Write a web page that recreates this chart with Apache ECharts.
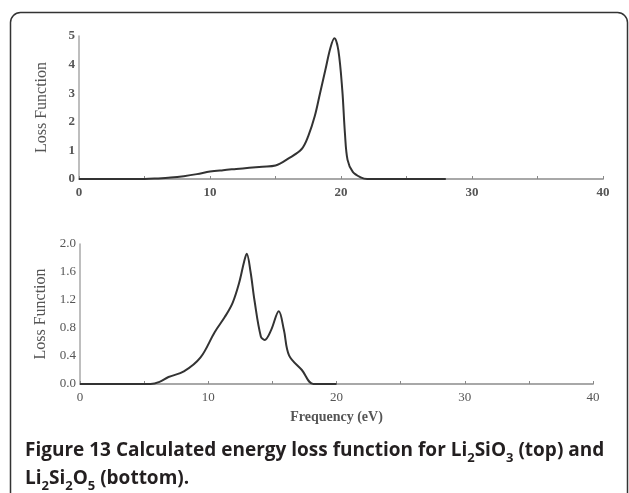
<!DOCTYPE html>
<html>
<head>
<meta charset="utf-8">
<script src="https://cdn.jsdelivr.net/npm/echarts@6/dist/echarts.min.js"></script>
<style>
    html, body { margin: 0; padding: 0; background: #fff; }
    #contain { width: 629px; height: 493px; }
</style>
</head>
<body>
<div id="contain"></div>
<script>
// top panel: Li2SiO3
var topEnergy = [0, 5, 6, 7, 8, 9, 10, 11, 12, 13, 14, 15, 16, 17, 17.5, 18, 18.4, 18.8, 19.2, 19.5, 19.8, 20.1, 20.3, 20.5, 20.9, 21.5, 22, 28];
var topLoss = [0, 0, 0.02, 0.05, 0.1, 0.17, 0.26, 0.31, 0.35, 0.39, 0.43, 0.47, 0.72, 1.05, 1.5, 2.2, 3.0, 3.8, 4.6, 4.92, 4.5, 3.1, 1.6, 0.67, 0.25, 0.06, 0, 0];

// bottom panel: Li2Si2O5
var botEnergy = [0, 5.5, 6.2, 6.9, 8.1, 9.4, 10.5, 11.3, 11.9, 12.4, 12.8, 13.0, 13.3, 13.6, 14.1, 14.4, 14.9, 15.5, 15.9, 16.3, 17.3, 18.2, 20];
var botLoss = [0, 0, 0.03, 0.1, 0.18, 0.38, 0.74, 0.96, 1.16, 1.44, 1.75, 1.86, 1.6, 1.2, 0.68, 0.63, 0.77, 1.04, 0.77, 0.41, 0.2, 0, 0];

var xTicks = [0, 10, 20, 30, 40];
var topYTicks = [0, 1, 2, 3, 4, 5];
var botYTicks = [0, 0.4, 0.8, 1.2, 1.6, 2.0];

var yName = 'Loss Function';
var xName = 'Frequency (eV)';

function pairs(xs, ys) {
    var out = [];
    for (var i = 0; i < xs.length; i++) {
        out.push([xs[i], ys[i]]);
    }
    return out;
}

var serif = '"Liberation Serif", "DejaVu Serif", serif';
var axisGray = '#a8a8a8';

function xAxisOf(gridIndex, bold, withName) {
    var ax = {
        type: 'value',
        gridIndex: gridIndex,
        min: xTicks[0],
        max: xTicks[xTicks.length - 1],
        interval: xTicks[1] - xTicks[0],
        axisLine: { lineStyle: { color: axisGray, width: 2 } },
        axisTick: { show: true, length: 3, inside: true, lineStyle: { color: '#888' } },
        minorTick: { show: true, splitNumber: 2, length: 3, lineStyle: { color: '#888' } },
        splitLine: { show: false },
        axisLabel: {
            margin: 7,
            color: '#555',
            fontFamily: serif,
            fontSize: 13,
            fontWeight: bold ? 'bold' : 'normal'
        }
    };
    if (withName) {
        ax.name = xName;
        ax.nameLocation = 'middle';
        ax.nameGap = 26;
        ax.nameTextStyle = { color: '#555', fontFamily: serif, fontSize: 14, fontWeight: 'bold' };
    }
    return ax;
}

function yAxisOf(gridIndex, ticks, bold, digits) {
    return {
        type: 'value',
        gridIndex: gridIndex,
        min: ticks[0],
        max: ticks[ticks.length - 1],
        interval: ticks[1] - ticks[0],
        name: yName,
        nameLocation: 'middle',
        nameGap: 29,
        nameTextStyle: { color: '#555', fontFamily: serif, fontSize: 16 },
        axisLine: { show: true, lineStyle: { color: axisGray, width: 1.5 } },
        axisTick: { show: false },
        splitLine: { show: false },
        axisLabel: {
            margin: 4,
            color: '#555',
            fontFamily: serif,
            fontSize: 13,
            fontWeight: bold ? 'bold' : 'normal',
            formatter: function (v) { return v.toFixed(digits); }
        }
    };
}

var lineStyle = { color: '#333', width: 2 };

var option = {
    animation: false,
    backgroundColor: '#fff',
    grid: [
        { left: 79, right: 26, top: 36, bottom: 314 },
        { left: 80, right: 36, top: 244, bottom: 109 }
    ],
    xAxis: [xAxisOf(0, true, false), xAxisOf(1, false, true)],
    yAxis: [yAxisOf(0, topYTicks, true, 0), yAxisOf(1, botYTicks, false, 1)],
    series: [{
        name: 'Li2SiO3',
        type: 'line',
        xAxisIndex: 0,
        yAxisIndex: 0,
        data: pairs(topEnergy, topLoss),
        smooth: 0.35,
        showSymbol: false,
        lineStyle: lineStyle
    }, {
        name: 'Li2Si2O5',
        type: 'line',
        xAxisIndex: 1,
        yAxisIndex: 1,
        data: pairs(botEnergy, botLoss),
        smooth: 0.35,
        showSymbol: false,
        lineStyle: lineStyle
    }],
    graphic: [{
        // the figure frame, open at the bottom
        type: 'rect',
        silent: true,
        shape: { x: 10.5, y: 12.5, width: 617, height: 520, r: 10 },
        style: { fill: 'none', stroke: '#333', lineWidth: 1.5 }
    }, {
        type: 'text',
        left: 25,
        top: 441,
        silent: true,
        style: {
            text: '{b|Figure 13 }{n|Calculated energy loss function for Li}{s|2}{n|SiO}{s|3}{n| (top) and}\n' +
                '{n|Li}{s|2}{n|Si}{s|2}{n|O}{s|5}{n| (bottom).}',
            fill: '#231f20',
            rich: {
                b: { fontFamily: '"Open Sans"', fontSize: 19, fontWeight: 'bold', lineHeight: 28, verticalAlign: 'middle' },
                n: { fontFamily: '"Open Sans"', fontSize: 19, fontWeight: 'bold', lineHeight: 28, verticalAlign: 'middle' },
                s: { fontFamily: '"Open Sans"', fontSize: 13, fontWeight: 'bold', lineHeight: 21, verticalAlign: 'bottom' }
            }
        }
    }]
};

var myChart = echarts.init(document.getElementById('contain'));
myChart.setOption(option);
</script>
</body>
</html>
